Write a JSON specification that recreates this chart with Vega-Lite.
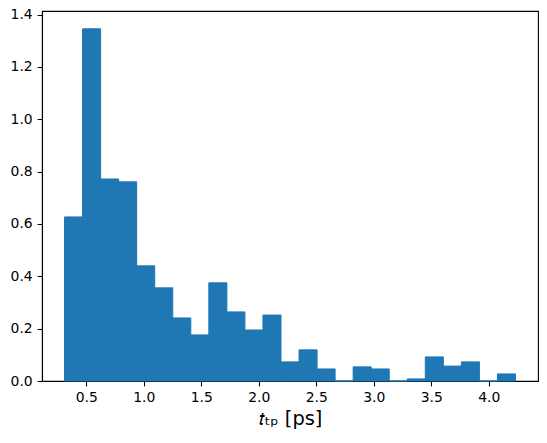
{
  "$schema": "https://vega.github.io/schema/vega-lite/v6.json",
  "width": 496,
  "height": 370,
  "autosize": "none",
  "padding": {"left": 42, "top": 11, "right": 9, "bottom": 62},
  "background": "white",
  "config": {
    "view": {"stroke": "black", "strokeWidth": 1.1},
    "axis": {
      "grid": false,
      "domainColor": "black",
      "domainWidth": 1.1,
      "tickColor": "black",
      "tickWidth": 1.1,
      "tickSize": 4.9,
      "labelPadding": 4.9,
      "labelFont": "DejaVu Sans",
      "labelFontSize": 13.9,
      "labelColor": "black",
      "titleFont": "DejaVu Sans",
      "titleFontSize": 19.4,
      "titleFontWeight": "normal",
      "titleColor": "black"
    }
  },
  "data": {
    "values": [
      {"bin_start": 0.3110, "bin_end": 0.4679, "density": 0.627},
      {"bin_start": 0.4679, "bin_end": 0.6247, "density": 1.346},
      {"bin_start": 0.6247, "bin_end": 0.7816, "density": 0.772},
      {"bin_start": 0.7816, "bin_end": 0.9384, "density": 0.761},
      {"bin_start": 0.9384, "bin_end": 1.0953, "density": 0.440},
      {"bin_start": 1.0953, "bin_end": 1.2521, "density": 0.356},
      {"bin_start": 1.2521, "bin_end": 1.4090, "density": 0.241},
      {"bin_start": 1.4090, "bin_end": 1.5658, "density": 0.176},
      {"bin_start": 1.5658, "bin_end": 1.7227, "density": 0.375},
      {"bin_start": 1.7227, "bin_end": 1.8795, "density": 0.264},
      {"bin_start": 1.8795, "bin_end": 2.0364, "density": 0.195},
      {"bin_start": 2.0364, "bin_end": 2.1932, "density": 0.252},
      {"bin_start": 2.1932, "bin_end": 2.3501, "density": 0.073},
      {"bin_start": 2.3501, "bin_end": 2.5069, "density": 0.119},
      {"bin_start": 2.5069, "bin_end": 2.6638, "density": 0.046},
      {"bin_start": 2.6638, "bin_end": 2.8206, "density": 0.0},
      {"bin_start": 2.8206, "bin_end": 2.9775, "density": 0.054},
      {"bin_start": 2.9775, "bin_end": 3.1343, "density": 0.046},
      {"bin_start": 3.1343, "bin_end": 3.2912, "density": 0.0},
      {"bin_start": 3.2912, "bin_end": 3.4480, "density": 0.008},
      {"bin_start": 3.4480, "bin_end": 3.6049, "density": 0.092},
      {"bin_start": 3.6049, "bin_end": 3.7617, "density": 0.057},
      {"bin_start": 3.7617, "bin_end": 3.9186, "density": 0.073},
      {"bin_start": 3.9186, "bin_end": 4.0754, "density": 0.0},
      {"bin_start": 4.0754, "bin_end": 4.2323, "density": 0.027}
    ]
  },
  "mark": {"type": "rect", "color": "#1f77b4", "stroke": "#1f77b4", "strokeWidth": 1},
  "encoding": {
    "x": {
      "field": "bin_start",
      "type": "quantitative",
      "scale": {"domain": [0.115, 4.428], "nice": false, "zero": false},
      "axis": {
        "title": "𝑡ₜₚ [ps]",
        "values": [0.5, 1.0, 1.5, 2.0, 2.5, 3.0, 3.5, 4.0],
        "format": ".1f",
        "titlePadding": 5
      }
    },
    "x2": {"field": "bin_end"},
    "y": {
      "field": "density",
      "type": "quantitative",
      "scale": {"domain": [0, 1.414], "nice": false},
      "axis": {
        "title": null,
        "values": [0, 0.2, 0.4, 0.6, 0.8, 1.0, 1.2, 1.4],
        "format": ".1f"
      }
    },
    "y2": {"datum": 0}
  }
}
